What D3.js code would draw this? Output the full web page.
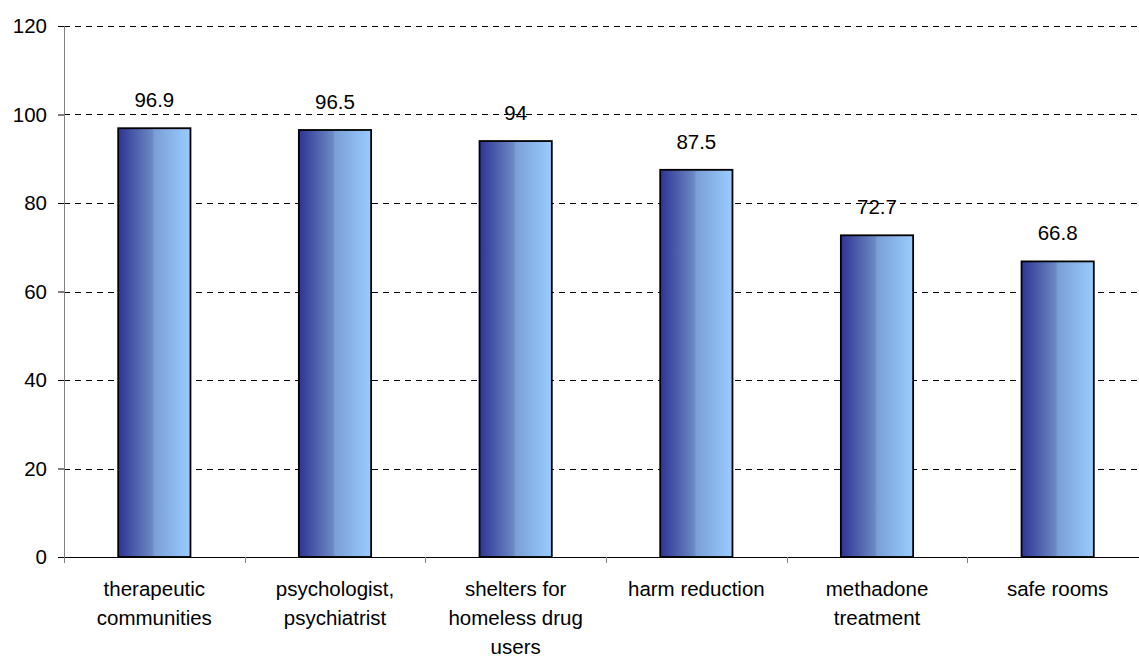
<!DOCTYPE html>
<html>
<head>
<meta charset="utf-8">
<script src="https://cdn.jsdelivr.net/npm/d3@7"></script>
<style>
  body { margin: 0; background: #fff; }
  text { font-family: "Liberation Sans", Arial, sans-serif; fill: #000; }
</style>
</head>
<body>
<div id="chart"></div>
<script>
// chart data
var categories = [
  ["therapeutic", "communities"],
  ["psychologist,", "psychiatrist"],
  ["shelters for", "homeless drug", "users"],
  ["harm reduction"],
  ["methadone", "treatment"],
  ["safe rooms"]
];
var values = [96.9, 96.5, 94, 87.5, 72.7, 66.8];
var yTicks = [0, 20, 40, 60, 80, 100, 120];

var svgWidth = 1139;
var svgHeight = 657;

var margin = { top: 26, left: 64 };
var plotWidth = 1084;
var plotHeight = 531;
var fontSize = "20.5px";

var svg = d3.select("#chart")
  .append("svg")
  .attr("width", svgWidth)
  .attr("height", svgHeight);

// bar gradient
var grad = svg.append("defs").append("linearGradient")
  .attr("id", "barGrad")
  .attr("x1", "0%").attr("x2", "100%").attr("y1", "0%").attr("y2", "0%");
grad.append("stop").attr("offset", "0%").attr("stop-color", "#2f3494");
grad.append("stop").attr("offset", "47%").attr("stop-color", "#6b88c4");
grad.append("stop").attr("offset", "50%").attr("stop-color", "#7a9fd6");
grad.append("stop").attr("offset", "100%").attr("stop-color", "#99ccff");

var chartGroup = svg.append("g")
  .attr("transform", `translate(${margin.left},${margin.top})`);

var keys = categories.map((d, i) => i);

var xScale = d3.scaleBand()
  .domain(keys)
  .range([0, plotWidth])
  .paddingInner(0.6)
  .paddingOuter(0.3);

var yScale = d3.scaleLinear()
  .domain([0, 120])
  .range([plotHeight, 0]);

// gridlines
chartGroup.selectAll("line.grid")
  .data(yTicks.filter(d => d > 0))
  .enter()
  .append("line")
  .attr("class", "grid")
  .attr("x1", 0)
  .attr("x2", plotWidth)
  .attr("y1", d => Math.round(yScale(d)) + 0.5)
  .attr("y2", d => Math.round(yScale(d)) + 0.5)
  .attr("stroke", "#000")
  .attr("stroke-width", 1)
  .attr("stroke-dasharray", "6,5");

// y axis
var leftAxis = d3.axisLeft(yScale)
  .tickValues(yTicks)
  .tickSize(6)
  .tickPadding(11);

var yAxis = chartGroup.append("g").call(leftAxis);
yAxis.select(".domain").attr("stroke", "#808080");
yAxis.selectAll(".tick line").attr("stroke", "#000");
yAxis.selectAll(".tick text")
  .style("font-size", fontSize)
  .style("font-family", "Liberation Sans, Arial, sans-serif");

// bars
var barGroup = chartGroup.selectAll("g.bar")
  .data(values)
  .enter()
  .append("g")
  .attr("class", "bar");

barGroup.append("rect")
  .attr("x", (d, i) => xScale(i))
  .attr("y", d => yScale(d))
  .attr("width", xScale.bandwidth())
  .attr("height", d => plotHeight - yScale(d))
  .attr("fill", "url(#barGrad)")
  .attr("stroke", "#000")
  .attr("stroke-width", 1.8);

barGroup.append("text")
  .text(d => d)
  .attr("x", (d, i) => xScale(i) + xScale.bandwidth() / 2)
  .attr("y", d => yScale(d) - 21)
  .attr("text-anchor", "middle")
  .style("font-size", fontSize);

// x axis
var step = plotWidth / categories.length;
var xAxisG = chartGroup.append("g")
  .attr("transform", `translate(0, ${plotHeight})`);

xAxisG.append("line")
  .attr("x1", 0).attr("x2", plotWidth)
  .attr("y1", 0.5).attr("y2", 0.5)
  .attr("stroke", "#000");

xAxisG.selectAll("line.xtick")
  .data(d3.range(categories.length))
  .enter()
  .append("line")
  .attr("class", "xtick")
  .attr("x1", d => Math.round(d * step) + 0.5)
  .attr("x2", d => Math.round(d * step) + 0.5)
  .attr("y1", 0)
  .attr("y2", 6)
  .attr("stroke", "#808080");

var labels = xAxisG.selectAll("text.cat")
  .data(categories)
  .enter()
  .append("text")
  .attr("class", "cat")
  .attr("text-anchor", "middle")
  .attr("transform", (d, i) => `translate(${xScale(i) + xScale.bandwidth() / 2}, 39)`)
  .style("font-size", fontSize);

labels.selectAll("tspan")
  .data(d => d)
  .enter()
  .append("tspan")
  .attr("x", 0)
  .attr("y", (d, i) => i * 29)
  .text(d => d);
</script>
</body>
</html>
